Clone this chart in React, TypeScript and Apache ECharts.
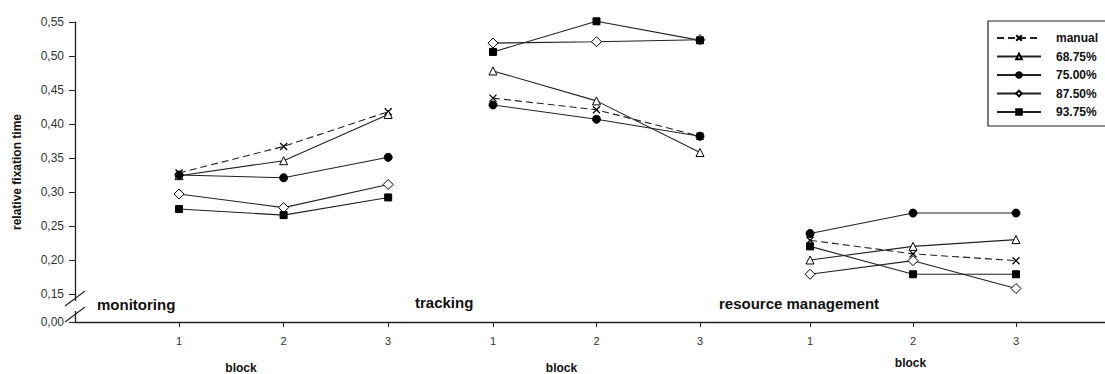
import React, { useEffect, useRef } from "react";
import * as echarts from "echarts";

const blocks = [1, 2, 3];
const seriesNames = ["manual", "68.75%", "75.00%", "87.50%", "93.75%"];
const panelNames = ["monitoring", "tracking", "resource management"];

const monitoringManual = [0.328, 0.367, 0.418];
const monitoring6875 = [0.324, 0.346, 0.414];
const monitoring75 = [0.325, 0.321, 0.351];
const monitoring875 = [0.297, 0.277, 0.311];
const monitoring9375 = [0.275, 0.266, 0.292];

const trackingManual = [0.438, 0.421, 0.382];
const tracking6875 = [0.478, 0.434, 0.358];
const tracking75 = [0.428, 0.407, 0.382];
const tracking875 = [0.519, 0.521, 0.524];
const tracking9375 = [0.506, 0.551, 0.523];

const resourceManual = [0.229, 0.209, 0.199];
const resource6875 = [0.2, 0.22, 0.23];
const resource75 = [0.239, 0.269, 0.269];
const resource875 = [0.179, 0.199, 0.158];
const resource9375 = [0.22, 0.179, 0.179];

const yTickValues = [0.15, 0.2, 0.25, 0.3, 0.35, 0.4, 0.45, 0.5, 0.55];
const Y_MIN = 0.1088; // broken-axis position labelled 0,00
const Y_MAX = 0.55;

const panelData = [
  [monitoringManual, monitoring6875, monitoring75, monitoring875, monitoring9375],
  [trackingManual, tracking6875, tracking75, tracking875, tracking9375],
  [resourceManual, resource6875, resource75, resource875, resource9375],
];

const FONT = "Liberation Sans, Arial, sans-serif";

const symbolStyles: any[] = [
  { symbol: "path://M0,0L10,10M0,10L10,0", symbolSize: 7, itemStyle: { color: "#000", borderColor: "#000", borderWidth: 1.3 }, lineType: [7, 4] },
  { symbol: "triangle", symbolSize: 8, itemStyle: { color: "#fff", borderColor: "#000", borderWidth: 1 }, lineType: "solid" },
  { symbol: "circle", symbolSize: 8, itemStyle: { color: "#000", borderColor: "#000", borderWidth: 1 }, lineType: "solid" },
  { symbol: "diamond", symbolSize: 10, itemStyle: { color: "#fff", borderColor: "#000", borderWidth: 1 }, lineType: "solid" },
  { symbol: "rect", symbolSize: 7, itemStyle: { color: "#000", borderColor: "#000", borderWidth: 1 }, lineType: "solid" },
];

export default function App() {
  const ref = useRef<HTMLDivElement>(null);

  useEffect(() => {
    if (!ref.current) return;
    const chart = echarts.init(ref.current, undefined, { renderer: "svg" });

    const grids = [
      { left: 75, top: 22, width: 332, height: 300, outerBoundsMode: "none", containLabel: false },
      { left: 407, top: 22, width: 309, height: 300, outerBoundsMode: "none", containLabel: false },
      { left: 716, top: 22, width: 389, height: 300, outerBoundsMode: "none", containLabel: false },
    ];
    const xRanges = [
      [0.005, 3.18],
      [0.169, 3.155],
      [0.087, 3.864],
    ];
    const nameGaps = [40, 40, 35];

    const xAxes = grids.map((_, i) => ({
      type: "value",
      gridIndex: i,
      min: xRanges[i][0],
      max: xRanges[i][1],
      name: "block",
      nameLocation: "middle",
      nameGap: nameGaps[i],
      nameTextStyle: { fontFamily: FONT, fontWeight: "bold", fontSize: 12, color: "#111" },
      axisLine: { show: true, lineStyle: { color: "#222", width: 1.3 } },
      axisTick: { show: true, customValues: blocks, length: 5, lineStyle: { color: "#222" } },
      axisLabel: {
        customValues: blocks,
        margin: 13,
        fontFamily: FONT,
        fontSize: 11,
        color: "#333",
      },
      splitLine: { show: false },
    }));

    const yAxes = grids.map((_, i) => ({
      type: "value",
      gridIndex: i,
      min: Y_MIN,
      max: Y_MAX,
      show: i === 0,
      name: i === 0 ? "relative fixation time" : "",
      nameLocation: "middle",
      nameGap: 52,
      nameRotate: 90,
      nameTextStyle: { fontFamily: FONT, fontWeight: "bold", fontSize: 12, color: "#111" },
      axisLine: { show: i === 0, lineStyle: { color: "#222", width: 1.3 } },
      axisTick: { show: i === 0, customValues: [Y_MIN, ...yTickValues], length: 6, lineStyle: { color: "#222" } },
      axisLabel: {
        show: i === 0,
        customValues: [Y_MIN, ...yTickValues],
        margin: 11,
        fontFamily: FONT,
        fontSize: 12,
        color: "#333",
        formatter: (v: number) => (v < 0.12 ? "0,00" : v.toFixed(2).replace(".", ",")),
      },
      splitLine: { show: false },
    }));

    const series: any[] = [];
    panelData.forEach((panel, p) => {
      panel.forEach((vals, s) => {
        const st = symbolStyles[s];
        series.push({
          type: "line",
          name: seriesNames[s],
          xAxisIndex: p,
          yAxisIndex: p,
          data: blocks.map((b, k) => [b, vals[k]]),
          symbol: st.symbol,
          symbolSize: st.symbolSize,
          showAllSymbol: true,
          clip: false,
          itemStyle: st.itemStyle,
          lineStyle: { color: "#222", width: 1.1, type: st.lineType },
          emphasis: { disabled: true },
          z: 3,
        });
      });
    });

    const graphics: any[] = [
      { type: "rect", shape: { x: 70, y: 301, width: 12, height: 10 }, style: { fill: "#fff" }, z: 100 },
      { type: "line", shape: { x1: 65, y1: 306, x2: 85, y2: 291 }, style: { stroke: "#222", lineWidth: 1.1 }, z: 101 },
      { type: "line", shape: { x1: 65, y1: 322, x2: 85, y2: 307 }, style: { stroke: "#222", lineWidth: 1.1 }, z: 101 },
      { type: "rect", shape: { x: 988, y: 21, width: 140, height: 105 }, style: { fill: "#fff", stroke: "#222", lineWidth: 1.2 }, z: 1 },
      { type: "text", x: 97, y: 304, style: { text: panelNames[0], font: `bold 15px ${FONT}`, fill: "#111", verticalAlign: "middle" }, z: 50 },
      { type: "text", x: 415, y: 302, style: { text: panelNames[1], font: `bold 15px ${FONT}`, fill: "#111", verticalAlign: "middle" }, z: 50 },
      { type: "text", x: 719, y: 303, style: { text: panelNames[2], font: `bold 15px ${FONT}`, fill: "#111", verticalAlign: "middle" }, z: 50 },
    ];

    chart.setOption({
      animation: false,
      backgroundColor: "#fff",
      grid: grids,
      xAxis: xAxes,
      yAxis: yAxes,
      series,
      legend: {
        data: seriesNames,
        orient: "vertical",
        left: 996,
        top: 32,
        padding: 0,
        itemWidth: 44,
        itemHeight: 7,
        itemGap: 6.5,
        z: 20,
        textStyle: { fontFamily: FONT, fontWeight: "bold", fontSize: 12, color: "#111", padding: [0, 0, 0, 10] },
        selectedMode: false,
      },
      graphic: graphics,
    });

    return () => chart.dispose();
  }, []);

  return (
    <div
      ref={ref}
      style={{ position: "fixed", left: 0, top: 0, width: 1105, height: 374, background: "#fff" }}
    />
  );
}
